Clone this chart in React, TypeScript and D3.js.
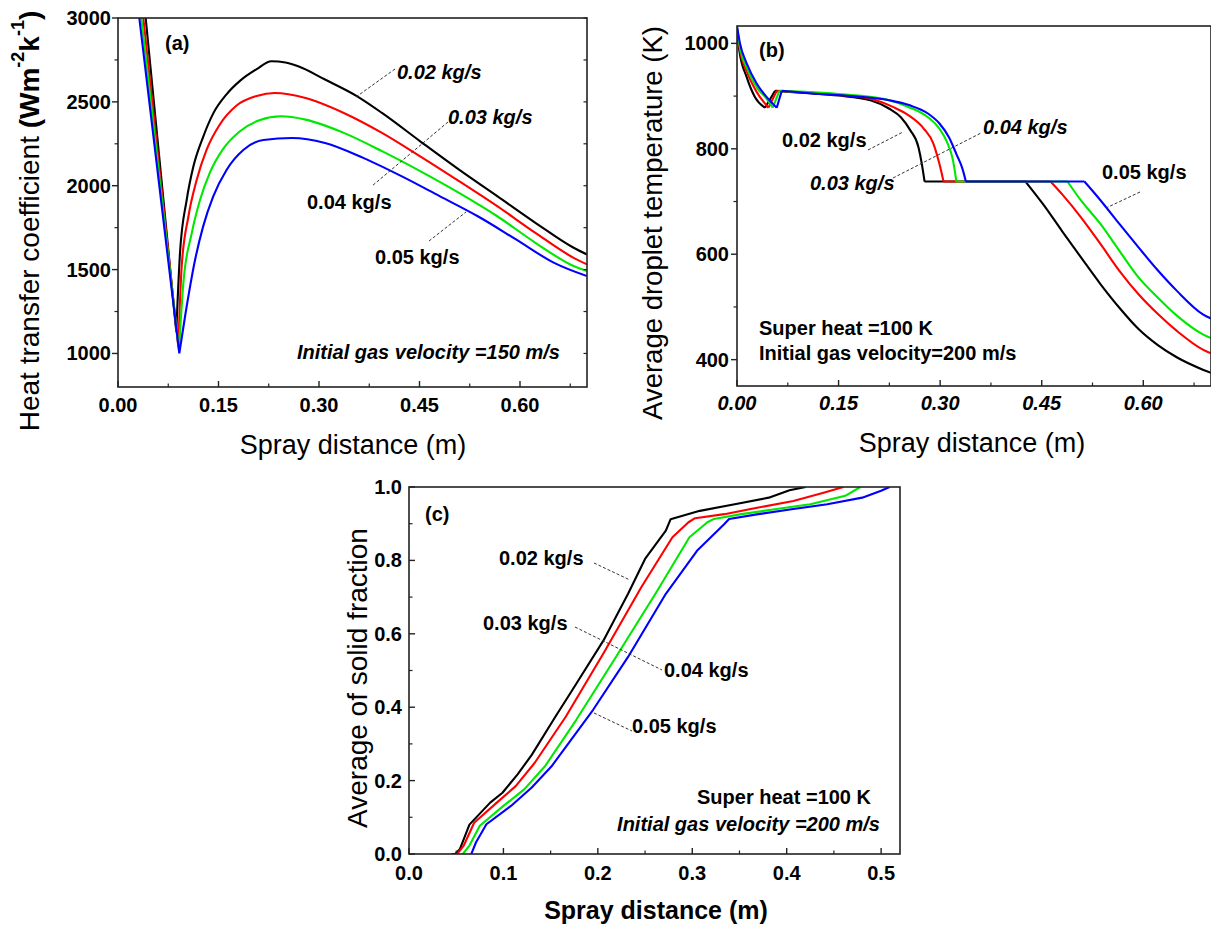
import React from "react";
import * as d3 from "d3";

type Pt = [number, number];

// ---------------- Panel (a): heat transfer coefficient vs spray distance ----------------
const htc002: Pt[] = [
  [0.0413, 3000], [0.087, 1130], [0.0925, 1597], [0.1025, 1915], [0.1124, 2113], [0.127, 2290],
  [0.142, 2430], [0.162, 2545], [0.182, 2625], [0.207, 2695], [0.229, 2742], [0.25, 2735],
  [0.269, 2712], [0.309, 2633], [0.357, 2533], [0.394, 2434], [0.451, 2265], [0.509, 2096],
  [0.566, 1938], [0.623, 1779], [0.68, 1630], [0.7, 1590],
];
const htc003: Pt[] = [
  [0.0378, 3000], [0.09, 1040], [0.095, 1517], [0.105, 1815], [0.1174, 2034], [0.1323, 2215],
  [0.152, 2365], [0.177, 2478], [0.207, 2535], [0.234, 2553], [0.28, 2523], [0.337, 2434],
  [0.394, 2315], [0.451, 2175], [0.509, 2027], [0.566, 1878], [0.623, 1719], [0.68, 1570],
  [0.7, 1531],
];
const htc004: Pt[] = [
  [0.0348, 3000], [0.091, 1020], [0.0975, 1418], [0.11, 1716], [0.1224, 1915], [0.1373, 2080],
  [0.157, 2220], [0.182, 2325], [0.212, 2392], [0.243, 2414], [0.28, 2394], [0.337, 2315],
  [0.394, 2206], [0.451, 2087], [0.509, 1957], [0.566, 1818], [0.623, 1660], [0.68, 1521],
  [0.7, 1491],
];
const htc005: Pt[] = [
  [0.0318, 3000], [0.0915, 1000], [0.1, 1219], [0.115, 1557], [0.127, 1756], [0.142, 1935],
  [0.162, 2094], [0.187, 2213], [0.217, 2273], [0.26, 2285], [0.309, 2255], [0.366, 2166],
  [0.423, 2057], [0.48, 1938], [0.537, 1818], [0.594, 1680], [0.651, 1540], [0.7, 1461],
];

// ---------------- Panel (b): average droplet temperature ----------------
const temp002: Pt[] = [
  [0, 1025], [0.0034, 987], [0.0143, 936], [0.0266, 898], [0.0414, 878], [0.0562, 910],
  [0.1, 906], [0.15, 901], [0.197, 892], [0.225, 876], [0.242, 860], [0.256, 835], [0.268, 803],
  [0.273, 771], [0.277, 738], [0.426, 738], [0.452, 695], [0.48, 644], [0.508, 594], [0.537, 543],
  [0.565, 498], [0.593, 458], [0.622, 427], [0.65, 404], [0.688, 381], [0.7, 375],
];
const temp003: Pt[] = [
  [0, 1030], [0.004, 990], [0.015, 945], [0.029, 908], [0.0464, 878], [0.0587, 910],
  [0.1, 907], [0.15, 902], [0.197, 895], [0.231, 879], [0.254, 863], [0.276, 838], [0.29, 810],
  [0.299, 771], [0.305, 738], [0.463, 738], [0.48, 714], [0.508, 670], [0.537, 619], [0.565, 568],
  [0.593, 524], [0.622, 486], [0.65, 454], [0.688, 419], [0.7, 412],
];
const temp004: Pt[] = [
  [0, 1030], [0.004, 995], [0.015, 952], [0.03, 915], [0.045, 893], [0.0528, 878], [0.0626, 910],
  [0.1, 908], [0.15, 904], [0.2, 898], [0.225, 892], [0.254, 879], [0.282, 860], [0.299, 838],
  [0.31, 813], [0.319, 778], [0.324, 738], [0.488, 738], [0.508, 702], [0.537, 657], [0.565, 606],
  [0.593, 556], [0.622, 517], [0.65, 483], [0.688, 448], [0.7, 441],
];
const temp005: Pt[] = [
  [0, 1033], [0.0044, 1000], [0.0143, 962], [0.029, 924], [0.0439, 898], [0.0587, 878],
  [0.0661, 910], [0.112, 905], [0.169, 900], [0.225, 892], [0.254, 883], [0.282, 867],
  [0.299, 848], [0.313, 822], [0.324, 790], [0.333, 762], [0.338, 738], [0.513, 738],
  [0.537, 702], [0.565, 657], [0.593, 613], [0.621, 570], [0.65, 530], [0.688, 486], [0.7, 478],
];

// ---------------- Panel (c): average solid fraction ----------------
const fs002: Pt[] = [
  [0.045, 0], [0.049, 0], [0.054, 0.014], [0.064, 0.08], [0.086, 0.14], [0.099, 0.167],
  [0.115, 0.217], [0.13, 0.27], [0.155, 0.374], [0.173, 0.447], [0.206, 0.582], [0.232, 0.709],
  [0.25, 0.804], [0.272, 0.881], [0.277, 0.912], [0.308, 0.935], [0.345, 0.953], [0.381, 0.971],
  [0.403, 0.991], [0.42, 1.0],
];
const fs003: Pt[] = [
  [0.051, 0], [0.058, 0.023], [0.069, 0.085], [0.093, 0.14], [0.113, 0.185], [0.133, 0.248],
  [0.166, 0.374], [0.206, 0.547], [0.246, 0.727], [0.279, 0.863], [0.296, 0.904], [0.303, 0.915],
  [0.334, 0.926], [0.37, 0.944], [0.407, 0.962], [0.44, 0.985], [0.46, 1.0],
];
const fs004: Pt[] = [
  [0.057, 0], [0.064, 0.023], [0.075, 0.077], [0.1, 0.131], [0.122, 0.176], [0.144, 0.239],
  [0.177, 0.365], [0.217, 0.528], [0.261, 0.709], [0.297, 0.863], [0.316, 0.904], [0.323, 0.913],
  [0.352, 0.926], [0.389, 0.94], [0.425, 0.953], [0.462, 0.976], [0.478, 1.0],
];
const fs005: Pt[] = [
  [0.066, 0], [0.071, 0.032], [0.082, 0.081], [0.108, 0.131], [0.13, 0.181], [0.151, 0.239],
  [0.195, 0.393], [0.232, 0.537], [0.272, 0.709], [0.305, 0.826], [0.334, 0.899], [0.339, 0.913],
  [0.37, 0.926], [0.407, 0.94], [0.443, 0.953], [0.48, 0.971], [0.5, 0.99], [0.509, 1.0],
];

// ---------------- Shared categories, colours and ticks ----------------
const flowRates = ["0.02 kg/s", "0.03 kg/s", "0.04 kg/s", "0.05 kg/s"];
const lineColors = ["#000000", "#ff0000", "#00e800", "#0000ff"];

const aXTicks = [0, 0.15, 0.3, 0.45, 0.6];
const aXMinor = [0.075, 0.225, 0.375, 0.525, 0.675];
const aYTicks = [1000, 1500, 2000, 2500, 3000];
const aYMinor = [1250, 1750, 2250, 2750];

const bXTicks = [0, 0.15, 0.3, 0.45, 0.6];
const bXMinor = [0.075, 0.225, 0.375, 0.525, 0.675];
const bYTicks = [400, 600, 800, 1000];
const bYMinor = [500, 700, 900];

const cXTicks = [0, 0.1, 0.2, 0.3, 0.4, 0.5];
const cXMinor = [0.05, 0.15, 0.25, 0.35, 0.45];
const cYTicks = [0, 0.2, 0.4, 0.6, 0.8, 1.0];
const cYMinor = [0.1, 0.3, 0.5, 0.7, 0.9];

const FONT = "'Liberation Sans', Arial, Helvetica, sans-serif";

type Mode = "min" | "all" | "none";

function seriesPath(pts: Pt[], x: any, y: any, mode: Mode, curve: any): string {
  const line = d3.line<Pt>().x((d) => x(d[0])).y((d) => y(d[1])).curve(curve);
  const segs: Pt[][] = [];
  let cur: Pt[] = [pts[0]];
  for (let i = 1; i < pts.length; i++) {
    cur.push(pts[i]);
    if (i < pts.length - 1) {
      const s0 = pts[i][1] - pts[i - 1][1];
      const s1 = pts[i + 1][1] - pts[i][1];
      const brk = mode === "min" ? s0 < 0 && s1 > 0 : mode === "all" ? s0 * s1 <= 0 : false;
      if (brk) {
        segs.push(cur);
        cur = [pts[i]];
      }
    }
  }
  segs.push(cur);
  return segs.map((s) => line(s) || "").join(" ");
}

function Panel({ cfg }: { cfg: any }) {
  const x = d3.scaleLinear().domain(cfg.xDomain).range([cfg.left, cfg.right]);
  const y = d3.scaleLinear().domain(cfg.yDomain).range([cfg.bottom, cfg.top]);
  const clipId = `clip-${cfg.id}`;
  const MAJ = 6;
  const MIN = 3.5;
  const xDir = cfg.xTickDir === "in" ? -1 : 1;
  const yDir = cfg.yTickDir === "in" ? 1 : -1;
  return (
    <g>
      <defs>
        <clipPath id={clipId}>
          <rect x={cfg.left} y={cfg.top} width={cfg.right - cfg.left} height={cfg.bottom - cfg.top} />
        </clipPath>
      </defs>
      <g clipPath={`url(#${clipId})`}>
        {cfg.series.map((s: Pt[], i: number) => (
          <path
            key={i}
            d={seriesPath(s, x, y, cfg.mode, cfg.curve)}
            fill="none"
            stroke={lineColors[i]}
            strokeWidth={2.1}
            strokeLinejoin="round"
          />
        ))}
      </g>
      <rect
        x={cfg.left}
        y={cfg.top}
        width={cfg.right - cfg.left}
        height={cfg.bottom - cfg.top}
        fill="none"
        stroke="#222"
        strokeWidth={1.6}
      />
      {cfg.xTicks.map((t: number) => (
        <line key={`xt${t}`} x1={x(t)} x2={x(t)} y1={cfg.bottom} y2={cfg.bottom + xDir * MAJ} stroke="#222" strokeWidth={1.4} />
      ))}
      {cfg.xMinor.map((t: number) => (
        <line key={`xm${t}`} x1={x(t)} x2={x(t)} y1={cfg.bottom} y2={cfg.bottom + xDir * MIN} stroke="#222" strokeWidth={1.2} />
      ))}
      {cfg.yTicks.map((t: number) => (
        <line key={`yt${t}`} x1={cfg.left} x2={cfg.left + yDir * MAJ} y1={y(t)} y2={y(t)} stroke="#222" strokeWidth={1.4} />
      ))}
      {cfg.yMinor.map((t: number) => (
        <line key={`ym${t}`} x1={cfg.left} x2={cfg.left + yDir * MIN} y1={y(t)} y2={y(t)} stroke="#222" strokeWidth={1.2} />
      ))}
      {cfg.rightTicks &&
        [...cfg.yTicks, ...cfg.yMinor].map((t: number) => (
          <line key={`yr${t}`} x1={cfg.right} x2={cfg.right - MIN} y1={y(t)} y2={y(t)} stroke="#222" strokeWidth={1.2} />
        ))}
      {cfg.xTicks.map((t: number) => (
        <text
          key={`xl${t}`}
          x={x(t)}
          y={cfg.xLabelY}
          textAnchor="middle"
          dominantBaseline="central"
          fontFamily={FONT}
          fontWeight="bold"
          fontStyle={cfg.xLabelItalic ? "italic" : "normal"}
          fontSize={20}
        >
          {cfg.xFmt(t)}
        </text>
      ))}
      {cfg.yTicks.map((t: number) => (
        <text
          key={`yl${t}`}
          x={cfg.yLabelX}
          y={y(t)}
          textAnchor="end"
          dominantBaseline="central"
          fontFamily={FONT}
          fontWeight="bold"
          fontSize={20}
        >
          {cfg.yFmt(t)}
        </text>
      ))}
    </g>
  );
}

const panelA = {
  id: "a", left: 118, right: 587, top: 18, bottom: 387,
  xDomain: [0, 0.7], yDomain: [800, 3000],
  xTicks: aXTicks, xMinor: aXMinor, yTicks: aYTicks, yMinor: aYMinor,
  xFmt: d3.format(".2f"), yFmt: d3.format("d"),
  xTickDir: "in", yTickDir: "out", rightTicks: true,
  xLabelY: 405, yLabelX: 111, xLabelItalic: false,
  series: [htc002, htc003, htc004, htc005], mode: "min" as Mode, curve: d3.curveMonotoneX,
};

const panelB = {
  id: "b", left: 737, right: 1211, top: 26, bottom: 386,
  xDomain: [0, 0.7], yDomain: [350, 1033],
  xTicks: bXTicks, xMinor: bXMinor, yTicks: bYTicks, yMinor: bYMinor,
  xFmt: d3.format(".2f"), yFmt: d3.format("d"),
  xTickDir: "in", yTickDir: "out", rightTicks: false,
  xLabelY: 403, yLabelX: 729, xLabelItalic: true,
  series: [temp002, temp003, temp004, temp005], mode: "all" as Mode, curve: d3.curveMonotoneX,
};

const panelC = {
  id: "c", left: 409, right: 900, top: 487, bottom: 854,
  xDomain: [0, 0.52], yDomain: [0, 1],
  xTicks: cXTicks, xMinor: cXMinor, yTicks: cYTicks, yMinor: cYMinor,
  xFmt: d3.format(".1f"), yFmt: d3.format(".1f"),
  xTickDir: "in", yTickDir: "in", rightTicks: false,
  xLabelY: 873, yLabelX: 402, xLabelItalic: false,
  series: [fs002, fs003, fs004, fs005], mode: "none" as Mode, curve: d3.curveLinear,
};

function Label({ x, y, text, italic, anchor, size }: any) {
  return (
    <text
      x={x}
      y={y}
      textAnchor={anchor || "start"}
      dominantBaseline="central"
      fontFamily={FONT}
      fontWeight="bold"
      fontStyle={italic ? "italic" : "normal"}
      fontSize={size || 20}
    >
      {text}
    </text>
  );
}

function Leader({ x1, y1, x2, y2 }: any) {
  return <line x1={x1} y1={y1} x2={x2} y2={y2} stroke="#333" strokeWidth={1} strokeDasharray="3 2" />;
}

export default function App() {
  return (
    <svg
      width={1211}
      height={930}
      viewBox="0 0 1211 930"
      style={{ position: "absolute", left: 0, top: 0, display: "block", background: "#fff" }}
    >
      <rect x={0} y={0} width={1211} height={930} fill="#fff" />
      <Panel cfg={panelA} />
      <Panel cfg={panelB} />
      <Panel cfg={panelC} />

      {/* ---- Panel (a) annotations ---- */}
      <Label x={165} y={43} text="(a)" />
      <Label x={397} y={72} text={flowRates[0]} italic />
      <Label x={448} y={117} text={flowRates[1]} italic />
      <Label x={307} y={202} text={flowRates[2]} />
      <Label x={375} y={257} text={flowRates[3]} />
      <Leader x1={395} y1={69} x2={356} y2={97} />
      <Leader x1={448} y1={122} x2={372} y2={186} />
      <Leader x1={429} y1={241} x2={466} y2={212} />
      <Label x={297} y={352} text="Initial gas velocity =150 m/s" italic />
      <text x={353} y={445} textAnchor="middle" dominantBaseline="central" fontFamily={FONT} fontSize={27}>
        Spray distance (m)
      </text>
      <text
        transform="translate(29,221) rotate(-90)"
        textAnchor="middle"
        dominantBaseline="central"
        fontFamily={FONT}
        fontSize={28}
      >
        {"Heat transfer coefficient "}
        <tspan fontWeight="bold">(Wm</tspan>
        <tspan fontWeight="bold" fontSize={18} dy={-11}>-2</tspan>
        <tspan fontWeight="bold" dy={11}>k</tspan>
        <tspan fontWeight="bold" fontSize={18} dy={-11}>-1</tspan>
        <tspan fontWeight="bold" dy={11}>)</tspan>
      </text>

      {/* ---- Panel (b) annotations ---- */}
      <Label x={759} y={50} text="(b)" />
      <Label x={782} y={140} text={flowRates[0]} />
      <Label x={810} y={183} text={flowRates[1]} italic />
      <Label x={983} y={127} text={flowRates[2]} italic />
      <Label x={1102} y={172} text={flowRates[3]} />
      <Leader x1={868} y1={150} x2={903} y2={132} />
      <Leader x1={893} y1={178} x2={981} y2={133} />
      <Leader x1={1140} y1={192} x2={1106} y2={208} />
      <Label x={759} y={328} text="Super heat =100 K" />
      <Label x={759} y={353} text="Initial gas velocity=200 m/s" />
      <text x={972} y={443} textAnchor="middle" dominantBaseline="central" fontFamily={FONT} fontSize={27}>
        Spray distance (m)
      </text>
      <text
        transform="translate(652,223) rotate(-90)"
        textAnchor="middle"
        dominantBaseline="central"
        fontFamily={FONT}
        fontSize={27.5}
      >
        Average droplet temperature (K)
      </text>

      {/* ---- Panel (c) annotations ---- */}
      <Label x={425} y={514} text="(c)" />
      <Label x={499} y={558} text={flowRates[0]} />
      <Label x={483} y={623} text={flowRates[1]} />
      <Label x={664} y={670} text={flowRates[2]} />
      <Label x={632} y={726} text={flowRates[3]} />
      <Leader x1={594} y1={563} x2={630} y2={580} />
      <Leader x1={575} y1={627} x2={662} y2={670} />
      <Leader x1={594} y1={713} x2={632} y2={731} />
      <Label x={871} y={797} text="Super heat =100 K" anchor="end" />
      <Label x={880} y={824} text="Initial gas velocity =200 m/s" anchor="end" italic />
      <text
        x={656}
        y={910}
        textAnchor="middle"
        dominantBaseline="central"
        fontFamily={FONT}
        fontWeight="bold"
        fontSize={25}
      >
        Spray distance (m)
      </text>
      <text
        transform="translate(357,678) rotate(-90)"
        textAnchor="middle"
        dominantBaseline="central"
        fontFamily={FONT}
        fontSize={28}
      >
        Average of solid fraction
      </text>
    </svg>
  );
}
